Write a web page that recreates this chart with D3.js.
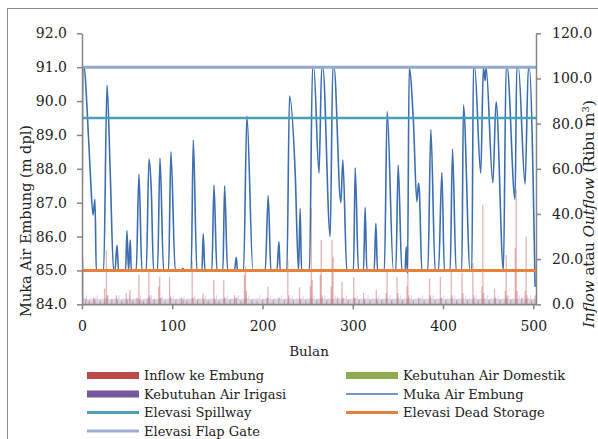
<!DOCTYPE html>
<html><head><meta charset="utf-8">
<script src="https://cdn.jsdelivr.net/npm/d3@7"></script>
<style>
html,body{margin:0;padding:0;background:#fff;}
svg{display:block;}
text{font-family:"DejaVu Serif",serif;fill:#222;}
</style></head>
<body>
<svg id="c" width="598" height="439"></svg>
<script>
// ---------- DATA ----------
const bulanMuka = [0,1,2.5,5.5,9.2,12.2,14.4,15.8,24,27.7,31.3,35,36.5,38.8,40.5,48.3,49.8,51.6,53.5,54.6,
 60.1,63.1,66.4,71.2,74.2,76.7,79.3,83.7,86.4,90.4,95.9,98.5,103.3,110.5,111.8,113,121,123.3,127.3,
 132.9,134.3,136.2,143.9,146.2,149.5,156.1,158,161.3,169,170.9,172.3,179,182.7,189.4,203,206.3,209.3,
 216,218.2,219.6,227,229.9,236.2,239.9,241.7,243.2,252,255.4,256.8,262.6,265.6,266.8,275,277.9,279.2,
 286.8,289,293.4,300.8,302.7,306.3,311.9,313.7,315.6,323.7,325.6,327.4,335,338.1,345,347.7,350.3,354.4,
 358,359.2,360.6,362.5,367.2,371,372.8,373.8,376.5,383.2,386.5,391.3,395,398.7,401.5,407.9,410.5,414.5,
 420.8,422.6,430,431.9,433.7,435,441.8,444.7,446.6,447.7,455.2,458.8,466.9,469.9,471,479.8,481.7,483.5,
 490.9,494.6,495.5,502];
const mukaAir = [85.0,91.0,91.0,89.83,87.87,86.64,87.10,85.0,85.0,90.47,87.87,85.0,85.0,85.75,85.0,85.0,86.17,85.0,85.9,85.0,
 85.0,87.84,85.0,85.0,88.29,87.42,85.0,85.0,88.32,85.0,85.0,88.5,85.0,85.0,85.06,85.0,85.0,88.85,85.0,
 85.0,86.08,85.0,85.0,87.52,85.0,85.0,87.5,85.0,85.0,85.39,85.0,85.0,89.56,85.0,85.0,87.2,85.0,
 85.0,85.85,85.0,85.0,90.15,87.88,85.0,86.83,85.0,85.0,91.0,91.0,87.87,91.0,91.0,86.0,91.0,91.0,
 87.0,88.26,85.0,85.0,88.03,85.0,85.0,86.86,85.0,85.0,86.39,85.0,85.0,89.69,85.0,85.0,88.11,85.0,
 85.0,85.7,84.92,90.97,89.39,87.03,87.57,87.35,85.0,85.0,89.15,85.0,85.0,87.89,85.0,85.0,88.58,85.0,
 85.0,89.88,85.0,85.0,91.0,91.0,87.87,91.0,90.6,91.0,87.59,89.98,85.0,91.0,91.0,87.1,91.0,91.0,
 87.55,91.0,91.0,84.52];

const inflowBulan = [1,4,8,13,14,20,25,27,28,33,38,39,44,49,50,53,56,61,63,64,68,73,74,75,80,85,86,87,92,97,98,
 104,110,112,116,122,123,128,134,135,140,146,147,152,157,158,164,169,171,176,180,181,182,188,194,200,205,206,
 212,218,224,228,229,234,241,242,248,253,254,255,260,264,265,266,271,276,277,278,283,288,289,295,301,302,307,
 312,313,319,326,327,332,337,338,343,349,350,355,360,361,362,367,373,379,385,386,391,397,398,403,409,410,415,
 421,422,427,433,434,439,443,444,445,451,457,458,463,469,470,471,475,480,481,482,487,491,492,493,498,502];
const inflowNilai = [20,2,1.5,3,2,1.5,7,24,4,2,4,2,1.5,5,2,6.3,1.5,3,13,2,1.5,3,14.4,4,2,7.8,12.2,3,1.5,12,3.5,
 2,3,2,1.5,19.2,3,2,4.9,2,1.5,10.8,2,1.5,10.8,3,2,4,3,1.5,13,16.7,6,2,1.5,2,3,7.8,
 2,3,2,19.6,4,2,7.5,2,2,8,42.5,10.8,2,13,28.5,4,2,8,28.5,21,3,10,3,2,12,3,2,
 5,2,2,6.3,2,2,5,14.4,2,12.2,5,2,8,25.5,4,2,3,2,11.5,4,2,12.2,3,2,14.4,4,2,
 14,5,2,18.2,4,2,8,44,5,2,7,3,2,6,21.8,4,2,24.8,51,6,3,6,30,4,2,4];

// monthly demand pattern (Jan..Dec), repeated every year of the simulation
const irigasiBulanan = [2.5,2.4,2.6,2.7,2.5,4.0,2.3,2.2,2.4,2.6,2.5,2.4];
const domestikBulanan = [0.6,0.55,0.6,0.58,0.6,0.58,0.6,0.6,0.58,0.6,0.58,0.6];
const jumlahBulan = 504;

const elevSpillway = 89.5, elevDeadStorage = 85.0, elevFlapGate = 91.0;

const ticksKiri = [84,85,86,87,88,89,90,91,92];
const ticksKanan = [0,20,40,60,80,100,120];
const ticksBawah = [0,100,200,300,400,500];

const legendItems = [
 {nama:"Inflow ke Embung", tipe:"rect", warna:"#BA4A47"},
 {nama:"Kebutuhan Air Domestik", tipe:"rect", warna:"#8FAD50"},
 {nama:"Kebutuhan Air Irigasi", tipe:"rect", warna:"#76599A"},
 {nama:"Muka Air Embung", tipe:"line", warna:"#6F96CD", w:2},
 {nama:"Elevasi Spillway", tipe:"line", warna:"#4A9FBC", w:3},
 {nama:"Elevasi Dead Storage", tipe:"line", warna:"#E8823A", w:3},
 {nama:"Elevasi Flap Gate", tipe:"line", warna:"#9AB0D8", w:3}
];

// ---------- CHART ----------
const svg = d3.select("#c");
const L = 82, R = 536, T = 33.3, B = 304.3;
const x = d3.scaleLinear().domain([0,503]).range([L,R]);
const yL = d3.scaleLinear().domain([84,92]).range([B,T]);
const yR = d3.scaleLinear().domain([0,120]).range([B,T]);

svg.append("rect").attr("x",7.5).attr("y",8.5).attr("width",600).attr("height",440)
  .attr("fill","none").attr("stroke","#8a8a8a").attr("stroke-width",1);

svg.append("clipPath").attr("id","cp").append("rect")
  .attr("x",L).attr("y",T-3).attr("width",R-L).attr("height",B-T+3);
const g = svg.append("g").attr("clip-path","url(#cp)");

const months = d3.range(jumlahBulan);
// inflow bars
g.append("g").selectAll("rect").data(inflowBulan.map((m,i)=>({m,v:inflowNilai[i]})))
 .join("rect").attr("x",d=>x(d.m)-0.6).attr("width",1.3)
 .attr("y",d=>yR(d.v)).attr("height",d=>B-yR(d.v))
 .attr("fill","rgba(192,80,77,0.42)");
// domestic
g.append("g").selectAll("rect").data(months)
 .join("rect").attr("x",m=>x(m)-0.5).attr("width",1)
 .attr("y",m=>yR(domestikBulanan[m%12])).attr("height",m=>B-yR(domestikBulanan[m%12]))
 .attr("fill","rgba(155,187,89,0.35)");
// irrigation
g.append("g").selectAll("rect").data(months)
 .join("rect").attr("x",m=>x(m)-0.5).attr("width",1)
 .attr("y",m=>yR(irigasiBulanan[m%12])).attr("height",m=>B-yR(irigasiBulanan[m%12]))
 .attr("fill","rgba(128,100,162,0.28)");

// water level
const line = d3.line().x(d=>x(d[0])).y(d=>yL(d[1])).curve(d3.curveMonotoneX);
g.append("path").datum(bulanMuka.map((m,i)=>[m,mukaAir[i]]))
 .attr("d",line).attr("fill","none").attr("stroke","#3C6EB0").attr("stroke-width",1.6)
 .attr("stroke-linejoin","round");

// reference lines
const refs = [[elevSpillway,"#47A0BA",2.6],[elevDeadStorage,"#E8823A",3],[elevFlapGate,"#93A9D1",3]];
refs.forEach(([v,c,w])=>{
  svg.append("line").attr("x1",L).attr("x2",R).attr("y1",yL(v)).attr("y2",yL(v))
   .attr("stroke",c).attr("stroke-width",w);
});

// axes
const fmt = d3.format(".1f");
function styleAxis(sel){
  sel.select(".domain").attr("stroke","#868686").attr("stroke-width",1.5);
  sel.selectAll(".tick line").attr("stroke","#868686").attr("stroke-width",1.5);
  sel.selectAll(".tick text").style("font-family","DejaVu Serif").style("font-size","14px").attr("fill","#222");
}
svg.append("g").attr("transform",`translate(${L},0)`)
  .call(d3.axisLeft(yL).tickValues(ticksKiri).tickFormat(fmt).tickSize(5).tickSizeOuter(0).tickPadding(10))
  .call(styleAxis);
svg.append("g").attr("transform",`translate(${R},0)`)
  .call(d3.axisRight(yR).tickValues(ticksKanan).tickFormat(fmt).tickSize(5).tickSizeOuter(0).tickPadding(11))
  .call(styleAxis);
svg.append("g").attr("transform",`translate(0,${B})`)
  .call(d3.axisBottom(x).tickValues(ticksBawah).tickFormat(d3.format("d")).tickSize(5).tickSizeOuter(0).tickPadding(12))
  .call(styleAxis);

// titles
svg.append("text").attr("transform","translate(31,221) rotate(-90)").attr("text-anchor","middle")
  .style("font-size","14.5px").text("Muka Air Embung (m dpl)");
const rt = svg.append("text").attr("transform","translate(594,214) rotate(-90)").attr("text-anchor","middle")
  .style("font-size","15px");
rt.append("tspan").style("font-style","italic").text("Inflow");
rt.append("tspan").text(" atau ");
rt.append("tspan").style("font-style","italic").text("Outflow");
rt.append("tspan").text(" (Ribu m");
rt.append("tspan").attr("dy","-5").style("font-size","10px").text("3");
rt.append("tspan").attr("dy","5").text(")");
svg.append("text").attr("x",309).attr("y",356).attr("text-anchor","middle")
  .style("font-size","13.5px").text("Bulan");

// legend
const colX = [87,346], rowY = [375.5,394,412.5,431];
legendItems.forEach((it,i)=>{
  const cx = colX[i%2], cy = rowY[Math.floor(i/2)];
  if(it.tipe==="rect"){
    svg.append("rect").attr("x",cx).attr("y",cy-3.5).attr("width",52).attr("height",7).attr("fill",it.warna);
  } else {
    svg.append("line").attr("x1",cx).attr("x2",cx+52).attr("y1",cy).attr("y2",cy)
      .attr("stroke",it.warna).attr("stroke-width",it.w);
  }
  svg.append("text").attr("x",cx+57).attr("y",cy+4.8).style("font-size","13px").text(it.nama);
});
</script>
</body></html>
